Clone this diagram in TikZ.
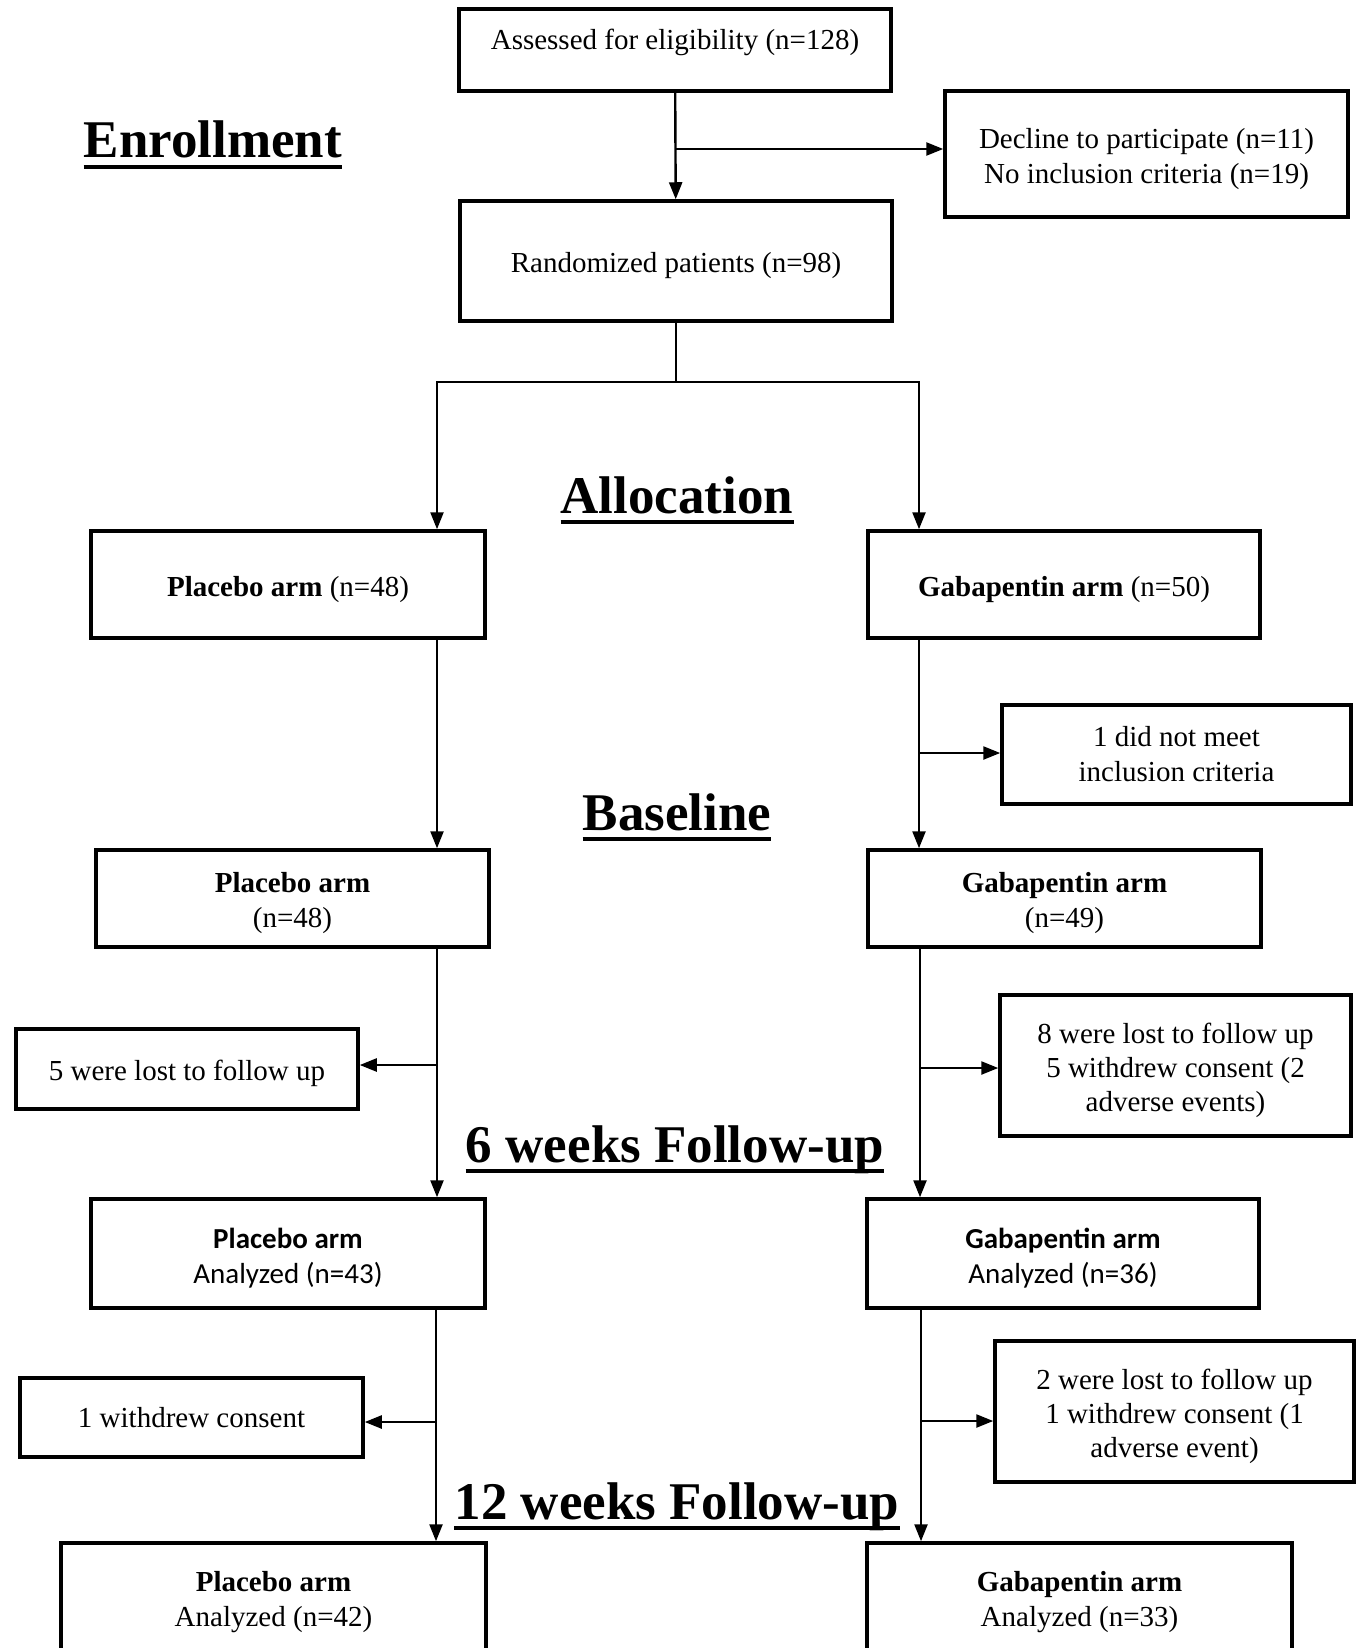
\documentclass[tikz,border=0pt]{standalone}
\usepackage{fontspec}
\setmainfont{Liberation Serif}
\newfontfamily\calibri{Carlito}
\usetikzlibrary{arrows.meta}

\newcommand\boxstrut{\rule{0pt}{30pt}}

\begin{document}
\begin{tikzpicture}[x=1pt, y=-1pt, >={Triangle[length=17pt,width=13pt]},
    box/.style={draw, line width=3.5pt, align=center, inner sep=0pt,
      font=\fontsize{29}{35}\selectfont},
    flow/.style={line width=2.4pt},
    heading/.style={inner sep=0pt, anchor=base, font=\fontsize{53}{60}\selectfont\bfseries}]
  \clip (0,0) rectangle (1358,1648);

  % enrollment
  \node[box, minimum width=432pt, minimum height=82pt, text height=20pt, text depth=20pt]
    (assess) at (675,50) {Assessed for eligibility (n=128)};
  \node[box, minimum width=403pt, minimum height=126pt] (decline) at (1146.5,154)
    {\boxstrut Decline to participate (n=11)\\No inclusion criteria (n=19)};
  \node[box, minimum width=432pt, minimum height=120pt] (rand) at (676,261)
    {\boxstrut Randomized patients (n=98)};

  % allocation
  \node[box, minimum width=394pt, minimum height=107pt] (pla1) at (288,584.5)
    {\boxstrut\textbf{Placebo arm} (n=48)};
  \node[box, minimum width=392pt, minimum height=107pt] (gab1) at (1064,584.5)
    {\boxstrut\textbf{Gabapentin arm} (n=50)};

  % baseline
  \node[box, minimum width=349pt, minimum height=99pt] (excl) at (1176.5,754.5)
    {1 did not meet\\inclusion criteria};
  \node[box, minimum width=393pt, minimum height=97pt] (pla2) at (292.5,898.5)
    {\boxstrut\textbf{Placebo arm}\\(n=48)};
  \node[box, minimum width=393pt, minimum height=97pt] (gab2) at (1064.5,898.5)
    {\boxstrut\textbf{Gabapentin arm}\\(n=49)};

  % 6 weeks
  \node[box, minimum width=342pt, minimum height=80pt] (lost1) at (187,1069)
    {\boxstrut 5 were lost to follow up};
  \node[box, minimum width=351pt, minimum height=141pt, font=\fontsize{29}{34}\selectfont]
    (lost2) at (1175.5,1065.5)
    {\boxstrut 8 were lost to follow up\\5 withdrew consent (2\\adverse events)};
  \node[box, minimum width=394pt, minimum height=109pt, font=\fontsize{29}{35}\calibri]
    (pla3) at (288,1253.5) {\boxstrut\textbf{Placebo arm}\\Analyzed (n=43)};
  \node[box, minimum width=392pt, minimum height=109pt, font=\fontsize{29}{35}\calibri]
    (gab3) at (1063,1253.5) {\boxstrut\textbf{Gabapentin arm}\\Analyzed (n=36)};

  % 12 weeks
  \node[box, minimum width=343pt, minimum height=79pt] (wd1) at (191.5,1417.5)
    {1 withdrew consent};
  \node[box, minimum width=359pt, minimum height=141pt, font=\fontsize{29}{34}\selectfont]
    (wd2) at (1174.5,1411.5)
    {\boxstrut 2 were lost to follow up\\1 withdrew consent (1\\adverse event)};
  \node[box, minimum width=425pt, minimum height=118pt] (pla4) at (273.5,1602)
    {\textbf{Placebo arm}\\Analyzed (n=42)};
  \node[box, minimum width=425pt, minimum height=118pt] (gab4) at (1079.5,1602)
    {\textbf{Gabapentin arm}\\Analyzed (n=33)};

  % stage titles
  \node[heading] (tenr) at (213,158) {Enrollment};
  \node[heading] (talloc) at (677,513) {Allocation};
  \node[heading] (tbase) at (677,830) {Baseline};
  \node[heading] (tsix) at (675,1162) {6 weeks Follow-up};
  \node[heading] (ttwelve) at (677,1519) {12 weeks Follow-up};
  \foreach \t in {tenr, talloc, tbase, tsix, ttwelve}
    \draw[line width=4pt] ([yshift=-9pt]\t.base west) -- ([yshift=-9pt]\t.base east);

  % connectors
  \coordinate (e1) at (assess.south |- 0,149);
  \draw[flow, ->] (assess) -- (rand);
  \draw[flow, ->] (e1) -- (e1 -| decline.west);

  \coordinate (split) at (rand.south |- 0,382);
  \coordinate (sl) at (437,382);
  \coordinate (sr) at (919,382);
  \draw[flow] (rand) -- (split);
  \draw[flow, ->] (sl) -- (sr) -- (sr |- gab1.north);
  \draw[flow, ->] (sr) -- (sl) -- (sl |- pla1.north);

  \coordinate (l1) at (437,638);
  \coordinate (r1) at (919,638);
  \coordinate (r1x) at (919,753);
  \draw[flow, ->] (l1) -- (l1 |- pla2.north);
  \draw[flow, ->] (r1) -- (r1 |- gab2.north);
  \draw[flow, ->] (r1x) -- (r1x -| excl.west);

  \coordinate (l2) at (437,947);
  \coordinate (l2x) at (437,1065);
  \coordinate (r2) at (920,947);
  \coordinate (r2x) at (920,1068);
  \draw[flow, ->] (l2) -- (l2 |- pla3.north);
  \draw[flow, ->] (l2x) -- (l2x -| lost1.east);
  \draw[flow, ->] (r2) -- (r2 |- gab3.north);
  \draw[flow, ->] (r2x) -- (r2x -| lost2.west);

  \coordinate (l3) at (436,1308);
  \coordinate (l3x) at (436,1422);
  \coordinate (r3) at (921,1308);
  \coordinate (r3x) at (921,1421);
  \draw[flow, ->] (l3) -- (l3 |- pla4.north);
  \draw[flow, ->] (l3x) -- (l3x -| wd1.east);
  \draw[flow, ->] (r3) -- (r3 |- gab4.north);
  \draw[flow, ->] (r3x) -- (r3x -| wd2.west);
\end{tikzpicture}
\end{document}
